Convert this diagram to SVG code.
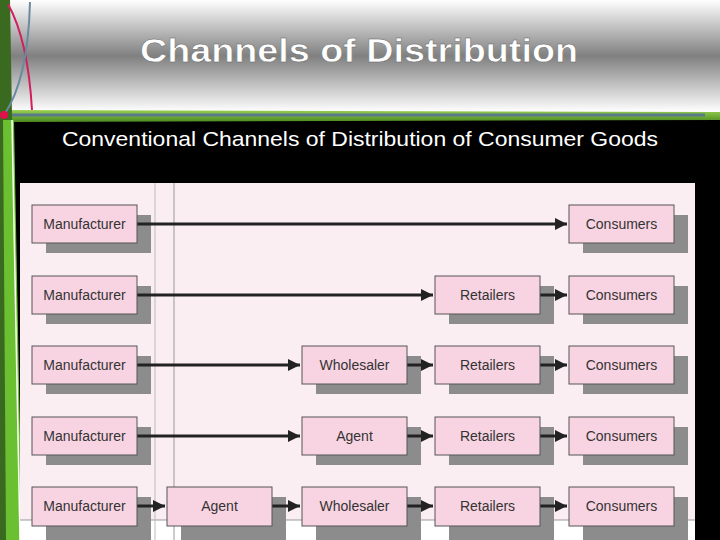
<svg xmlns="http://www.w3.org/2000/svg" width="720" height="540" viewBox="0 0 720 540">
<defs>
<linearGradient id="hdr" x1="0" y1="0" x2="0" y2="1">
<stop offset="0" stop-color="#ffffff"/><stop offset="0.5" stop-color="#808080"/><stop offset="1" stop-color="#ffffff"/>
</linearGradient>
<linearGradient id="grn" x1="0" y1="0" x2="0" y2="1">
<stop offset="0" stop-color="#9ad050"/><stop offset="1" stop-color="#4a8a20"/>
</linearGradient>
<marker id="ah" viewBox="0 0 10 10" refX="10" refY="5" markerWidth="4" markerHeight="4" orient="auto"><path d="M0,0 L10,5 L0,10 z" fill="#222"/></marker>
<style>
.sh{fill:#8c8c8c}
.bx{fill:#f8d3e2;stroke:#555;stroke-width:1}
.t{font-family:"Liberation Sans",Arial,sans-serif;font-size:14px;fill:#333;text-anchor:middle}
.c{stroke:#222;stroke-width:3;fill:none;marker-end:url(#ah)}
</style>
</defs>
<rect width="720" height="540" fill="#000"/>
<rect x="0" y="0" width="720" height="112" fill="url(#hdr)"/>
<polygon points="0,110 720,112 720,120 10,122" fill="url(#grn)"/>
<line x1="5" y1="115" x2="705" y2="115" stroke="#5a7a8a" stroke-width="3"/>
<polygon points="0,0 10,0 12,115 20,540 0,540" fill="#3a6a20"/>
<polygon points="3,120 14,120 22,540 6,540" fill="#6ac030"/>
<line x1="12" y1="120" x2="20" y2="540" stroke="#fff" stroke-width="1.5"/>
<path d="M8,4 Q28,40 32,110" stroke="#d02060" stroke-width="2" fill="none"/>
<path d="M30,2 Q28,80 4,115" stroke="#6a8aa0" stroke-width="2" fill="none"/>
<circle cx="4" cy="115" r="4" fill="#e0104a"/>
<text x="359" y="62" font-family="Liberation Sans,Arial,sans-serif" font-size="34" font-weight="bold" fill="#fff" text-anchor="middle" stroke="#666" stroke-width="0.5" textLength="438" lengthAdjust="spacingAndGlyphs">Channels of Distribution</text>
<text x="360" y="146" font-family="Liberation Sans,Arial,sans-serif" font-size="21" fill="#fff" text-anchor="middle" textLength="596" lengthAdjust="spacingAndGlyphs">Conventional Channels of Distribution of Consumer Goods</text>
<rect x="20" y="183" width="675" height="357" fill="#fbeef2"/>
<rect x="20" y="520" width="675" height="20" fill="#fff"/>
<line x1="20" y1="520" x2="695" y2="520" stroke="#999"/>
<line x1="155" y1="183" x2="155" y2="540" stroke="#bbb"/>
<line x1="174" y1="183" x2="174" y2="540" stroke="#999"/>
<g id="shadows">
<rect class="sh" x="46" y="215" width="105" height="38"/><rect class="sh" x="583" y="215" width="105" height="38"/>
<rect class="sh" x="46" y="286" width="105" height="38"/><rect class="sh" x="449" y="286" width="105" height="38"/><rect class="sh" x="583" y="286" width="105" height="38"/>
<rect class="sh" x="46" y="356" width="105" height="38"/><rect class="sh" x="316" y="356" width="105" height="38"/><rect class="sh" x="449" y="356" width="105" height="38"/><rect class="sh" x="583" y="356" width="105" height="38"/>
<rect class="sh" x="46" y="427" width="105" height="38"/><rect class="sh" x="316" y="427" width="105" height="38"/><rect class="sh" x="449" y="427" width="105" height="38"/><rect class="sh" x="583" y="427" width="105" height="38"/>
<rect class="sh" x="46" y="497" width="105" height="43"/><rect class="sh" x="181" y="497" width="105" height="43"/><rect class="sh" x="316" y="497" width="105" height="43"/><rect class="sh" x="449" y="497" width="105" height="43"/><rect class="sh" x="583" y="497" width="105" height="43"/>
</g>
<g id="connectors">
<line class="c" x1="137" y1="224" x2="567" y2="224"/>
<line class="c" x1="137" y1="295" x2="433" y2="295"/><line class="c" x1="540" y1="295" x2="567" y2="295"/>
<line class="c" x1="137" y1="365" x2="300" y2="365"/><line class="c" x1="407" y1="365" x2="433" y2="365"/><line class="c" x1="540" y1="365" x2="567" y2="365"/>
<line class="c" x1="137" y1="436" x2="300" y2="436"/><line class="c" x1="407" y1="436" x2="433" y2="436"/><line class="c" x1="540" y1="436" x2="567" y2="436"/>
<line class="c" x1="137" y1="506" x2="165" y2="506"/><line class="c" x1="272" y1="506" x2="300" y2="506"/><line class="c" x1="407" y1="506" x2="433" y2="506"/><line class="c" x1="540" y1="506" x2="567" y2="506"/>
</g>
<g id="r1m"><rect class="bx" x="32" y="205" width="105" height="38"/><text class="t" x="84.5" y="229">Manufacturer</text></g>
<g id="r1c"><rect class="bx" x="569" y="205" width="105" height="38"/><text class="t" x="621.5" y="229">Consumers</text></g>
<g id="r2m"><rect class="bx" x="32" y="276" width="105" height="38"/><text class="t" x="84.5" y="300">Manufacturer</text></g>
<g id="r2r"><rect class="bx" x="435" y="276" width="105" height="38"/><text class="t" x="487.5" y="300">Retailers</text></g>
<g id="r2c"><rect class="bx" x="569" y="276" width="105" height="38"/><text class="t" x="621.5" y="300">Consumers</text></g>
<g id="r3m"><rect class="bx" x="32" y="346" width="105" height="38"/><text class="t" x="84.5" y="370">Manufacturer</text></g>
<g id="r3w"><rect class="bx" x="302" y="346" width="105" height="38"/><text class="t" x="354.5" y="370">Wholesaler</text></g>
<g id="r3r"><rect class="bx" x="435" y="346" width="105" height="38"/><text class="t" x="487.5" y="370">Retailers</text></g>
<g id="r3c"><rect class="bx" x="569" y="346" width="105" height="38"/><text class="t" x="621.5" y="370">Consumers</text></g>
<g id="r4m"><rect class="bx" x="32" y="417" width="105" height="38"/><text class="t" x="84.5" y="441">Manufacturer</text></g>
<g id="r4a"><rect class="bx" x="302" y="417" width="105" height="38"/><text class="t" x="354.5" y="441">Agent</text></g>
<g id="r4r"><rect class="bx" x="435" y="417" width="105" height="38"/><text class="t" x="487.5" y="441">Retailers</text></g>
<g id="r4c"><rect class="bx" x="569" y="417" width="105" height="38"/><text class="t" x="621.5" y="441">Consumers</text></g>
<g id="r5m"><rect class="bx" x="32" y="487" width="105" height="39"/><text class="t" x="84.5" y="511">Manufacturer</text></g>
<g id="r5a"><rect class="bx" x="167" y="487" width="105" height="39"/><text class="t" x="219.5" y="511">Agent</text></g>
<g id="r5w"><rect class="bx" x="302" y="487" width="105" height="39"/><text class="t" x="354.5" y="511">Wholesaler</text></g>
<g id="r5r"><rect class="bx" x="435" y="487" width="105" height="39"/><text class="t" x="487.5" y="511">Retailers</text></g>
<g id="r5c"><rect class="bx" x="569" y="487" width="105" height="39"/><text class="t" x="621.5" y="511">Consumers</text></g>
</svg>
